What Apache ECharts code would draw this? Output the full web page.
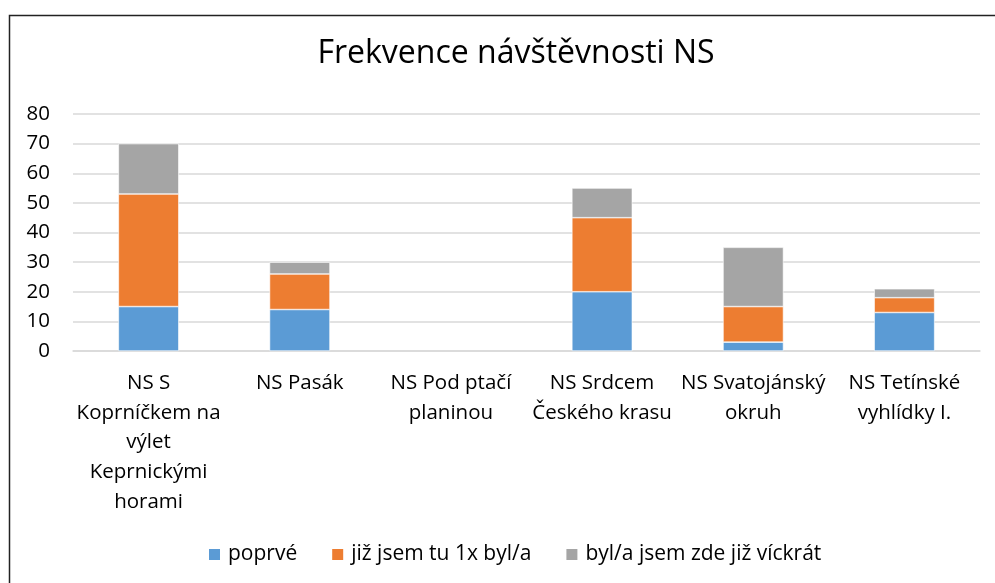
<!DOCTYPE html>
<html>
<head>
<meta charset="utf-8">
<script src="https://cdn.jsdelivr.net/npm/echarts@6/dist/echarts.min.js"></script>
<style>
html,body{margin:0;padding:0;background:#fff;}
#chart{width:995px;height:583px;}
</style>
</head>
<body>
<div id="chart"></div>
<script>
const categories = [
  "NS S\nKoprníčkem na\nvýlet\nKeprnickými\nhorami",
  "NS Pasák",
  "NS Pod ptačí\nplaninou",
  "NS Srdcem\nČeského krasu",
  "NS Svatojánský\nokruh",
  "NS Tetínské\nvyhlídky I."
];
const seriesNames = ["poprvé", "již jsem tu 1x byl/a", "byl/a jsem zde již víckrát"];
const poprve = [15, 14, 0, 20, 3, 13];
const jednou = [38, 12, 0, 25, 12, 5];
const vickrat = [17, 4, 0, 10, 20, 3];
const yTicks = { min: 0, max: 80, interval: 10 };

const FONT = '"Open Sans", Lato, sans-serif';
const chart = echarts.init(document.getElementById('chart'));
const colors = ['#5b9bd5', '#ed7d31', '#a5a5a5'];
const values = [poprve, jednou, vickrat];

chart.setOption({
  animation: false,
  textStyle: { fontFamily: FONT },
  title: {
    text: 'Frekvence návštěvnosti NS',
    left: 511,
    top: 33,
    textAlign: 'center',
    textStyle: { fontFamily: FONT, fontSize: 32, fontWeight: 'normal', color: '#000' }
  },
  graphic: [{
    type: 'rect',
    shape: { x: 9.5, y: 15.5, width: 1000, height: 600 },
    style: { fill: 'none', stroke: '#222', lineWidth: 1.5 },
    silent: true
  }],
  legend: {
    data: seriesNames,
    left: 202,
    top: 539,
    itemWidth: 13,
    itemHeight: 13,
    itemGap: 33,
    icon: 'rect',
    textStyle: { fontFamily: FONT, fontSize: 21, color: '#000', padding: [0, 0, 0, 2] }
  },
  grid: { left: 73, right: 15, top: 114, bottom: 232, containLabel: false },
  xAxis: {
    type: 'category',
    data: categories,
    axisLine: { lineStyle: { color: '#d9d9d9', width: 1.5 } },
    axisTick: { show: false },
    axisLabel: {
      interval: 0,
      margin: 17,
      fontFamily: FONT,
      fontSize: 20.5,
      lineHeight: 29.8,
      color: '#000',
      align: 'center'
    }
  },
  yAxis: {
    type: 'value',
    min: yTicks.min,
    max: yTicks.max,
    interval: yTicks.interval,
    axisLine: { show: false },
    axisTick: { show: false },
    splitLine: { lineStyle: { color: '#d9d9d9', width: 1.5 } },
    axisLabel: { margin: 23, fontFamily: FONT, fontSize: 20.5, color: '#000' }
  },
  series: seriesNames.map((n, i) => ({
    name: n,
    type: 'bar',
    stack: 'total',
    barWidth: '40%',
    data: values[i].map(v => v === 0 ? { value: v, itemStyle: { borderWidth: 0 } } : v),
    itemStyle: { color: colors[i], borderColor: '#fff', borderWidth: 0.6 }
  }))
});
</script>
</body>
</html>
